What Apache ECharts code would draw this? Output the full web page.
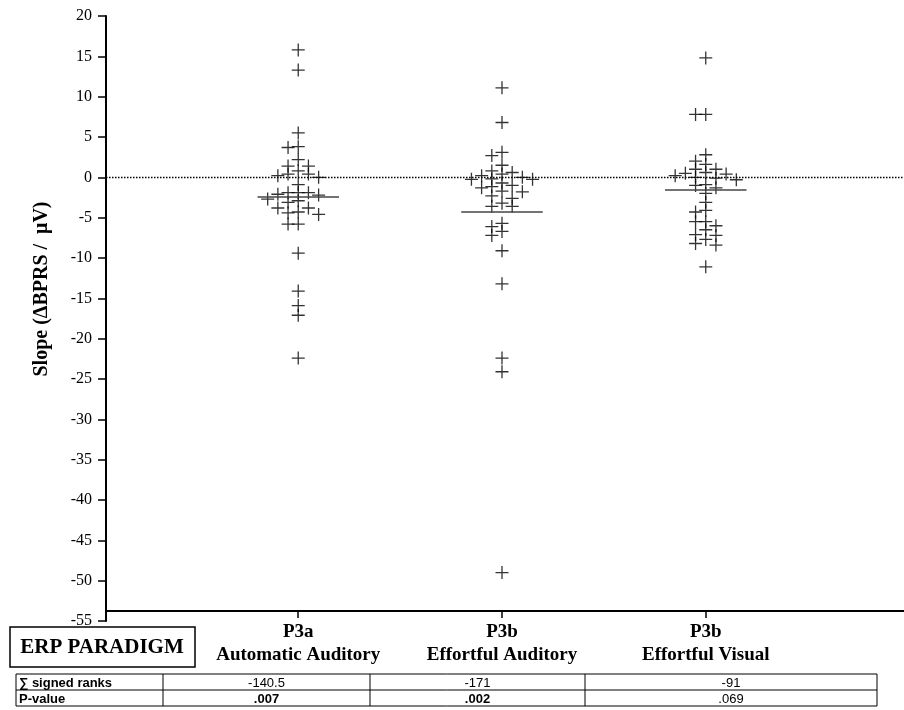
<!DOCTYPE html>
<html>
<head>
<meta charset="UTF-8">
<title>Slope by ERP paradigm</title>
<script src="https://cdn.jsdelivr.net/npm/echarts@6/dist/echarts.min.js"></script>
<style>
    html, body { margin: 0; padding: 0; background: #fff; }
    #chart { width: 904px; height: 710px; }
</style>
</head>
<body>
<div id="chart"></div>
<script>
    // groups on the x axis
    var paradigms = ['P3a', 'P3b', 'P3b'];
    var tasks = ['Automatic Auditory', 'Effortful Auditory', 'Effortful Visual'];

    // slopes, one value per subject
    var p3aAuditory = [15.8, 13.3, 5.5, 3.8, 3.7, 2.2, 1.4, 1.4, 0.8, 0.4, 0.4, 0.2, 0.0, -0.9, -1.9, -1.9, -1.9,
        -2.1, -2.2, -2.7, -2.9, -3.1, -3.8, -3.8, -4.3, -4.4, -4.6, -5.8, -5.8, -9.4, -14.1, -15.9, -17.1, -22.4];
    var p3bAuditory = [11.1, 6.8, 3.1, 2.7, 1.5, 0.8, 0.6, 0.4, 0.2, 0.0, -0.2, -0.25, -0.25, -0.7, -1.0, -1.15,
        -1.3, -1.7, -1.8, -2.3, -2.6, -3.2, -3.6, -3.6, -5.7, -6.1, -6.7, -7.2, -9.1, -13.2, -22.4, -24.1, -49.0];
    var p3bVisual = [14.8, 7.8, 7.8, 2.8, 2.0, 1.6, 1.0, 1.0, 0.6, 0.5, 0.4, 0.2, 0.0, -0.1, -0.3, -0.9, -1.0,
        -1.3, -2.0, -3.1, -4.1, -4.3, -5.5, -5.5, -6.0, -6.5, -7.1, -7.2, -7.7, -8.2, -8.4, -11.1];

    // statistics table under the axis
    var rankSums = ['-140.5', '-171', '-91'];
    var pValues = ['.007', '.002', '.069'];

    var groups = [p3aAuditory, p3bAuditory, p3bVisual];

    // spread overlapping points sideways (simple beeswarm)
    function dodge(values, center) {
        var step = 0.05, gap = 0.95;
        var placed = [];
        values.slice().sort(function (a, b) { return b - a; }).forEach(function (v) {
            var slots = [0, -1, 1, -2, 2, -3, 3, -4, 4];
            for (var s = 0; s < slots.length; s++) {
                var k = slots[s];
                var hit = placed.some(function (p) { return p.k === k && Math.abs(p.v - v) < gap; });
                if (!hit) { placed.push({ v: v, k: k }); return; }
            }
            placed.push({ v: v, k: 0 });
        });
        return placed.map(function (p) { return [center + p.k * step, p.v]; });
    }

    function mean(a) {
        return a.reduce(function (s, v) { return s + v; }, 0) / a.length;
    }

    var cross = 'path://M0,6L12,6M6,0L6,12';
    var serif = '"Liberation Serif", "DejaVu Serif", serif';
    var sans = '"Liberation Sans", Arial, sans-serif';

    var series = groups.map(function (vals, i) {
        var c = i + 1, m = mean(vals);
        var lines = [[{ coord: [c - 0.2, m] }, { coord: [c + 0.2, m] }]];
        var s = {
            type: 'scatter',
            data: dodge(vals, c),
            symbol: cross,
            symbolSize: 13,
            itemStyle: { color: 'transparent', borderColor: '#000', borderWidth: 1.3 },
            markLine: {
                silent: true,
                symbol: 'none',
                label: { show: false },
                lineStyle: { color: '#444', width: 1.5, type: 'solid' },
                data: lines
            }
        };
        if (i === 0) {
            s.markLine.data = lines.concat([{ yAxis: 0, lineStyle: { color: '#000', width: 1.4, type: [1.5, 1.5] } }]);
        }
        return s;
    });

    // table graphics
    var colX = [16, 163, 370, 585, 877];
    var rowY = [674, 690, 706];
    var graphic = [];
    rowY.forEach(function (y) {
        graphic.push({ type: 'line', shape: { x1: colX[0], y1: y, x2: colX[4], y2: y }, style: { stroke: '#000', lineWidth: 1 } });
    });
    colX.forEach(function (x) {
        graphic.push({ type: 'line', shape: { x1: x, y1: rowY[0], x2: x, y2: rowY[2] }, style: { stroke: '#000', lineWidth: 1 } });
    });
    var rowHead = ['\u2211 signed ranks', 'P-value'];
    rowHead.forEach(function (t, r) {
        graphic.push({ type: 'text', x: colX[0] + 3, y: (rowY[r] + rowY[r + 1]) / 2 + 1,
            style: { text: t, font: 'bold 13px ' + sans, fill: '#000', verticalAlign: 'middle' } });
    });
    [rankSums, pValues].forEach(function (row, r) {
        row.forEach(function (t, i) {
            var bold = r === 1 && parseFloat(t) < 0.05;
            graphic.push({ type: 'text', x: (colX[i + 1] + colX[i + 2]) / 2, y: (rowY[r] + rowY[r + 1]) / 2 + 1,
                style: { text: t, font: (bold ? 'bold ' : '') + '13px ' + sans, fill: '#000', align: 'center', verticalAlign: 'middle' } });
        });
    });
    // ERP PARADIGM box
    graphic.push({ type: 'rect', shape: { x: 10, y: 627, width: 185, height: 40 }, style: { fill: 'none', stroke: '#000', lineWidth: 1.5 } });
    graphic.push({ type: 'text', x: 102, y: 648, style: { text: 'ERP PARADIGM', font: 'bold 21px ' + serif, fill: '#000', align: 'center', verticalAlign: 'middle' } });
    // y axis title
    graphic.push({ type: 'text', x: 42, y: 289, rotation: Math.PI / 2,
        style: { text: 'Slope (\u0394BPRS /  \u03bcV)', font: 'bold 20px ' + serif, fill: '#000', align: 'center', verticalAlign: 'middle' } });

    var chart = echarts.init(document.getElementById('chart'), null, { renderer: 'canvas' });
    chart.setOption({
        animation: false,
        backgroundColor: '#fff',
        grid: { left: 106, right: 0, top: 16, bottom: 89 },
        xAxis: {
            type: 'value',
            min: 0.0565,
            max: 3.973,
            offset: -10,
            axisLine: { onZero: false, lineStyle: { color: '#000', width: 2 } },
            axisTick: { customValues: [1, 2, 3], length: 7, lineStyle: { color: '#000', width: 1.5 } },
            axisLabel: {
                customValues: [1, 2, 3],
                margin: 10,
                formatter: function (v) {
                    var i = Math.round(v) - 1;
                    return '{a|' + paradigms[i] + '}\n{a|' + tasks[i] + '}';
                },
                rich: { a: { fontFamily: serif, fontWeight: 'bold', fontSize: 19, lineHeight: 23, color: '#000' } }
            },
            splitLine: { show: false }
        },
        yAxis: {
            type: 'value',
            min: -55,
            max: 20,
            interval: 5,
            axisLine: { onZero: false, lineStyle: { color: '#000', width: 2 } },
            axisTick: { length: 8, lineStyle: { color: '#000', width: 1.5 } },
            axisLabel: { margin: 14, fontFamily: serif, fontSize: 16, color: '#000' },
            splitLine: { show: false }
        },
        series: series,
        graphic: graphic
    });
</script>
</body>
</html>
